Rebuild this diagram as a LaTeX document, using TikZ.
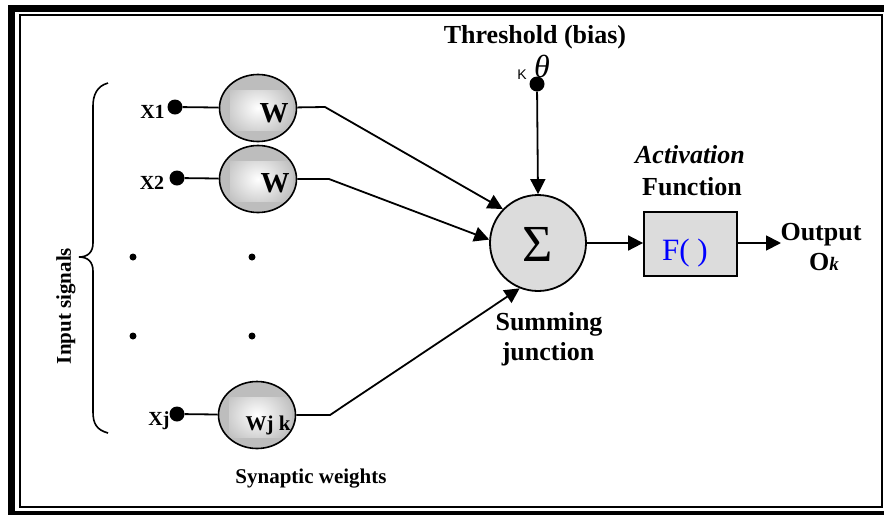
\documentclass[tikz,border=0pt]{standalone}
\usepackage{fontspec}
\setmainfont{Liberation Serif}
\newfontfamily\sansK{Liberation Sans}
\usetikzlibrary{arrows.meta,shapes.geometric}
\definecolor{wgray}{HTML}{BDBDBD}
\definecolor{lgray}{HTML}{DCDCDC}
\begin{document}
\begin{tikzpicture}[x=1pt,y=-1pt,
  conn/.style={line width=1.8pt},
  arr/.style={line width=1.8pt,-{Triangle[length=15pt,width=15pt]}},
  bigdot/.style={circle,fill=black,inner sep=0pt,minimum size=15pt},
  smalldot/.style={circle,fill=black,inner sep=0pt,minimum size=7pt},
  wnode/.style={ellipse,draw,line width=1.6pt,fill=wgray,minimum width=77pt,minimum height=67pt,inner sep=0pt,
    path picture={\shade[inner color=white,outer color=wgray]
      ([xshift=-28pt,yshift=18pt]path picture bounding box.center) rectangle
      ([xshift=35pt,yshift=-22pt]path picture bounding box.center);}},
  lbl/.style={font=\fontsize{26}{30}\selectfont\bfseries,inner sep=0pt,anchor=base},
  xlbl/.style={font=\fontsize{20}{22}\selectfont\bfseries,inner sep=0pt,anchor=base},
  wlbl/.style={font=\fontsize{29}{30}\selectfont\bfseries,inner sep=0pt,anchor=base},
  slbl/.style={font=\fontsize{21}{24}\selectfont\bfseries,inner sep=0pt,anchor=base},
]
\useasboundingbox (0,0) rectangle (884,515);
% frame
\fill[black] (8,5) rectangle (884,515);
\fill[white] (15,11.5) rectangle (884,510.5);
\draw[line width=2pt] (19.5,14.5) rectangle (882,507);

% brace
\draw[line width=1.6pt] (108,83) .. controls (97,86) and (93,95) .. (93,106) -- (93,243)
  .. controls (93,252) and (88,257) .. (79,257)
  .. controls (88,257) and (93,262) .. (93,271) -- (93,412)
  .. controls (93,424) and (97,430) .. (108,433);
\node[font=\fontsize{21}{24}\selectfont\bfseries,rotate=90,inner sep=0pt] (insig) at (66,306) {Input signals};

% inputs
\node[xlbl] (tx1) at (152.5,118) {X1};
\node[xlbl] (tx2) at (152,189) {X2};
\node[xlbl] (txj) at (159,425) {Xj};
\node[bigdot] (x1) at (175,107) {};
\node[bigdot] (x2) at (177,178) {};
\node[bigdot] (xj) at (177,414) {};

% weights
\node[wnode] (e1) at (258,108) {};
\node[wnode] (e2) at (258,179) {};
\node[wnode] (e3) at (257,415) {};
\node[wlbl] (w1) at (274,122) {W};
\node[wlbl] (w2) at (275,192) {W};
\node[slbl] (w3) at (268,430) {Wj k};

% ellipsis dots
\node[smalldot] (d1) at (133,257) {};
\node[smalldot] (d2) at (252,257) {};
\node[smalldot] (d3) at (133,336) {};
\node[smalldot] (d4) at (252,336) {};

\node[slbl] (syn) at (311,483) {Synaptic weights};

% summing junction
\node[circle,draw,line width=1.8pt,fill=lgray,minimum size=96pt,inner sep=0pt] (sum) at (538,243) {};
\node[font=\fontsize{52}{56}\selectfont,inner sep=0pt] (sigma) at (538,244) {Σ};
\node[lbl] (summing) at (549,330) {Summing};
\node[lbl] (junction) at (548,360) {junction};

% threshold
\node[lbl] (thr) at (535,43) {Threshold (bias)};
\node[font=\fontsize{32}{34}\selectfont\itshape,inner sep=0pt] (theta) at (542,66) {θ};
\node[font=\fontsize{14}{16}\selectfont\sansK,inner sep=0pt] (kk) at (522,75) {K};
\node[bigdot] (bias) at (537,84) {};

% activation
\node[lbl,font=\fontsize{26}{30}\selectfont\bfseries\itshape] (act) at (690,163) {Activation};
\node[lbl] (fun) at (692,195) {Function};
\node[rectangle,draw,line width=1.8pt,fill=lgray,minimum width=93pt,minimum height=64pt,inner sep=0pt] (fbox) at (690.5,244) {};
\node[font=\fontsize{31}{34}\selectfont,text=blue,inner sep=0pt,anchor=base] (ftxt) at (685,260) {F( )};

% output
\node[lbl] (out) at (821,240) {Output};
\node[lbl] (ok) at (824,270) {O{\fontsize{19}{20}\selectfont\itshape k}};
\coordinate (oend) at (781,243);

% connectors
\coordinate (b1) at (325,107);
\coordinate (b2) at (329,179);
\coordinate (b3) at (330,415);
\draw[conn] (x1) -- (e1);
\draw[conn] (x2) -- (e2);
\draw[conn] (xj) -- (e3);
\draw[arr] (e1) -- (b1) -- (sum.136);
\draw[arr] (e2) -- (b2) -- (sum.176);
\draw[arr] (e3) -- (b3) -- (sum.248);
\draw[arr] (bias) -- (sum.north);
\draw[arr] (sum.east) -- (fbox.west |- sum.east);
\draw[arr] (fbox.east |- sum.east) -- (oend);
\end{tikzpicture}
\end{document}
